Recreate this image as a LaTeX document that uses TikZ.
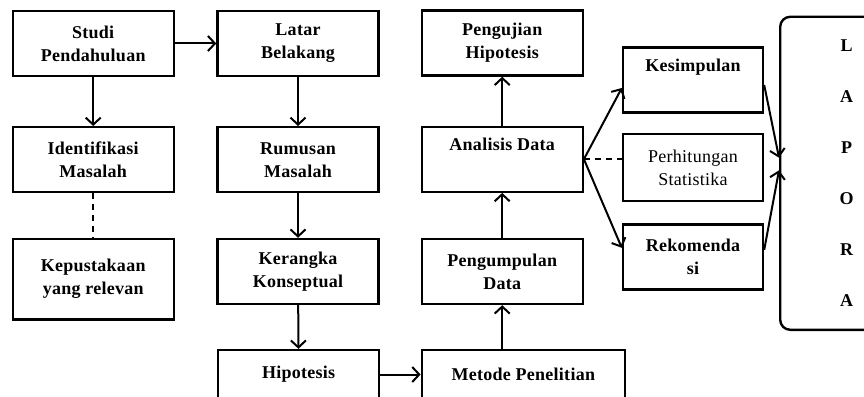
\documentclass[tikz,border=0pt]{standalone}
\usepackage{fontspec}
\setmainfont{Liberation Serif}[LetterSpace=1.5]
\usetikzlibrary{graphs,arrows.meta}
\tikzset{
    box/.style ={
        shape=rectangle,
        draw=black,
        line width=2.4pt,
        align=center,
        font=\bfseries\fontsize{18}{23}\selectfont,
        minimum width=161pt,
        minimum height=65pt
    },
    softbox/.style ={
        box,
        font=\fontsize{18}{23}\selectfont,
        minimum width=140pt
    },
    dashline/.style ={
        dashed,
        dash pattern=on 6pt off 5pt
    },
    link/.style ={
        line width=2pt,
        ->
    },
    >={Straight Barb[length=7pt,width=15pt,line width=2pt]}
}

\begin{document}
\begin{tikzpicture}[x=1pt,y=-1pt]
    \useasboundingbox (0,0) rectangle (864,396);
    \node[box] (studi) at(93.2,43.5) {Studi\\Pendahuluan};
    \node[box] (latar) at(298,43.5) {Latar\\Belakang};
    \node[box] (pengujian) at(502.2,43) {Pengujian\\Hipotesis};
    \node[box] (ident) at(93.2,159.7) {Identifikasi\\Masalah};
    \node[box] (rumusan) at(298,159.7) {Rumusan\\Masalah};
    \node[box] (analisis) at(502.2,159.2) {Analisis Data\\\strut};
    \node[box] (kepus) at(93.2,279) [minimum height=80.6pt] {Kepustakaan\\yang relevan};
    \node[box] (kerangka) at(298,271.5) {Kerangka\\Konseptual};
    \node[box] (pengumpulan) at(502.2,271.5) {Pengumpulan\\Data};
    \node[box] (hipo) at(298.6,374.5) [minimum height=49pt] {Hipotesis};
    \node[box] (metode) at(523.3,374.5) [minimum width=203pt,minimum height=49pt] {Metode Penelitian};
    \node[box,minimum width=140pt] (kesimpulan) at(693,80) {Kesimpulan\\\strut};
    \node[softbox] (hitung) at(693,167.5) [minimum height=67pt] {Perhitungan\\Statistika};
    \node[box,minimum width=140pt] (rekomendasi) at(693,256.8) {Rekomenda\\si};
    \node[box,rounded corners=10pt,minimum width=133pt,minimum height=313pt,
          font=\bfseries\fontsize{18}{51}\selectfont] (lapora) at(846.7,173.3) {L\\A\\P\\O\\R\\A};
    \graph[edges={line width=2pt}]{
        (studi)->(latar)->(rumusan)->(kerangka)->(hipo)->(metode);
        (studi)->(ident);
        (ident)--[dashline](kepus);
        (pengumpulan)->(analisis)->(pengujian);
    };
    \draw[link] (metode.north -| pengumpulan.south) -- (pengumpulan.south);
    \draw[link] (analisis.east) -- ([yshift=-8pt]kesimpulan.west);
    \draw[link] (analisis.east) -- ([yshift=9pt]rekomendasi.west);
    \draw[line width=2pt,dashline] (analisis.east) -- (analisis.east -| hitung.west);
    \draw[link] ([yshift=-5pt]kesimpulan.east) -- ([yshift=15.6pt]lapora.west);
    \draw[link] ([yshift=7pt]rekomendasi.east) -- ([yshift=3pt]lapora.west);
\end{tikzpicture}
\end{document}
